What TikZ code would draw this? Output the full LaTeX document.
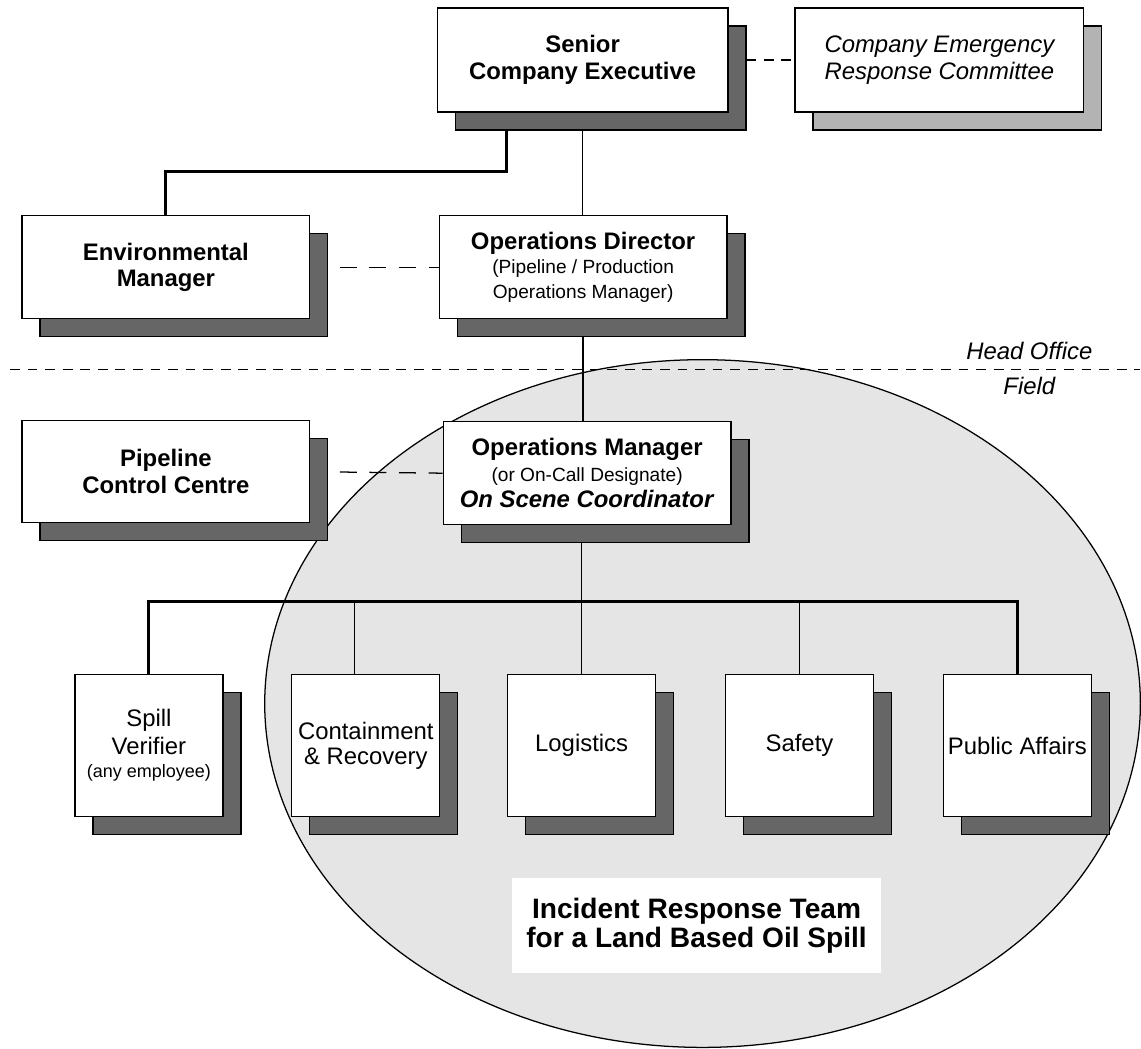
\documentclass[tikz,border=0pt]{standalone}
\usepackage{fontspec}
\setmainfont{Liberation Sans}
\definecolor{shadegray}{RGB}{102, 102, 102}
\definecolor{lightshade}{RGB}{179, 179, 179}
\definecolor{teamgray}{RGB}{229, 229, 229}
\usetikzlibrary{shadows, calc, backgrounds}
\newcommand{\boxfont}{\fontsize{17}{19}\selectfont}
\newcommand{\subfont}{\fontsize{13.6}{17.5}\selectfont}
\newcommand{\notefont}{\fontsize{12.8}{17.5}\selectfont}
\newcommand{\titlefont}{\fontsize{20}{20.6}\selectfont\bfseries}
\tikzset{
    boxshadow/.style={drop shadow={shadow xshift=0.45cm, shadow yshift=-0.45cm, opacity=1, fill=#1, draw=black, line width=0.9pt}},
    boxshadow/.default=shadegray,
    boxbase/.style={draw, rectangle, fill=white, line width=0.9pt, align=center, font=\boxfont, inner sep=2pt},
    orgbox/.style={boxbase, boxshadow, minimum width=7.2cm, minimum height=2.575cm},
    headbox/.style={orgbox, font=\boxfont\bfseries},
    committeebox/.style={boxbase, boxshadow=lightshade, minimum width=7.22cm, minimum height=2.6cm, font=\boxfont\itshape},
    teambox/.style={boxbase, boxshadow, minimum width=3.7cm, minimum height=3.55cm},
    orgline/.style={line width=0.9pt},
    busline/.style={line width=2.2pt},
    shortdash/.style={line width=0.9pt, dash pattern=on 7pt off 5.5pt},
    longdash/.style={line width=0.9pt, dash pattern=on 12pt off 9pt},
    zonelabel/.style={font=\boxfont\itshape, inner sep=0pt, anchor=base},
}
\begin{document}
\begin{tikzpicture}[x=0.025cm, y=-0.025cm]
    % Page and team area
    \begin{scope}[on background layer]
        \fill[white] (0, 0) rectangle (1141, 1049);
        \draw[fill=teamgray, line width=0.9pt] (703, 704) ellipse [x radius=10.95cm, y radius=8.6cm];
    \end{scope}
    \useasboundingbox (0, 0) rectangle (1141, 1049);

    % Head office
    \node[headbox, minimum width=7.27cm, minimum height=2.6cm] (senior) at (583, 60) {Senior\\Company Executive};
    \node[committeebox] (cerc) at (940, 60) {Company Emergency\\Response Committee};
    \node[headbox] (env) at (166, 267.5) {Environmental\\Manager};
    \node[orgbox] (opsdir) at (583.5, 267.5) {\textbf{Operations Director}\\[-1.5pt]{\subfont (Pipeline / Production}\\[-1.5pt]{\subfont Operations Manager)}};

    % Divider
    \coordinate (divl) at (10, 370);
    \coordinate (divr) at (1141, 370);
    \draw[shortdash] (divl) -- (divr);
    \node[zonelabel] (headoffice) at (1030, 360) {Head Office};
    \node[zonelabel] (field) at (1030, 395) {Field};

    % Field
    \node[headbox, minimum height=2.55cm] (pipeline) at (166, 472) {Pipeline\\Control Centre};
    \node[orgbox] (opsmgr) at (587.5, 473.5) {\textbf{Operations Manager}\\[-0.5pt]{\subfont (or On-Call Designate)}\\[-0.5pt]\textbf{\textit{On Scene Coordinator}}};

    % Team
    \node[teambox] (spill) at (149, 746) {Spill\\[1pt]Verifier\\[-2.6pt]{\notefont (any employee)}};
    \node[teambox] (cont) at (366, 746) {Containment\\[-1pt]\& Recovery};
    \node[teambox] (logi) at (582, 746) {Logistics};
    \node[teambox] (safety) at (800, 746) {Safety};
    \node[teambox] (pa) at (1018, 746) {Public Affairs};

    \node[fill=white, minimum width=9.25cm, minimum height=2.375cm, align=center, font=\titlefont] (irt) at (697, 926.5) {Incident Response Team\\for a Land Based Oil Spill};

    % Connectors
    \begin{scope}[on background layer]
        \draw[busline] ([xshift=-1.9cm]senior.south) |- ($(env.north)+(0, -44)$) -- (env.north);
        \draw[orgline] (senior.south) -- (senior.south |- opsdir.north);
        \draw[orgline] (opsdir.south) -- (opsdir.south |- opsmgr.north);
        \draw[shortdash] (senior.east) -- (cerc.west);
        \draw[longdash] (env.east) -- (opsdir.west);
        \draw[longdash] (pipeline.east) -- (opsmgr.west);
        \coordinate (bus) at (0, 602);
        \draw[orgline] (logi.north |- opsmgr.south) -- (logi.north);
        \draw[busline] (spill.north) |- (bus -| pa.north) -- (pa.north);
        \draw[orgline] ([xshift=-0.275cm]cont.north) -- ([xshift=-0.275cm]cont.north |- bus);
        \draw[orgline] (safety.north) -- (safety.north |- bus);
    \end{scope}
\end{tikzpicture}
\end{document}
